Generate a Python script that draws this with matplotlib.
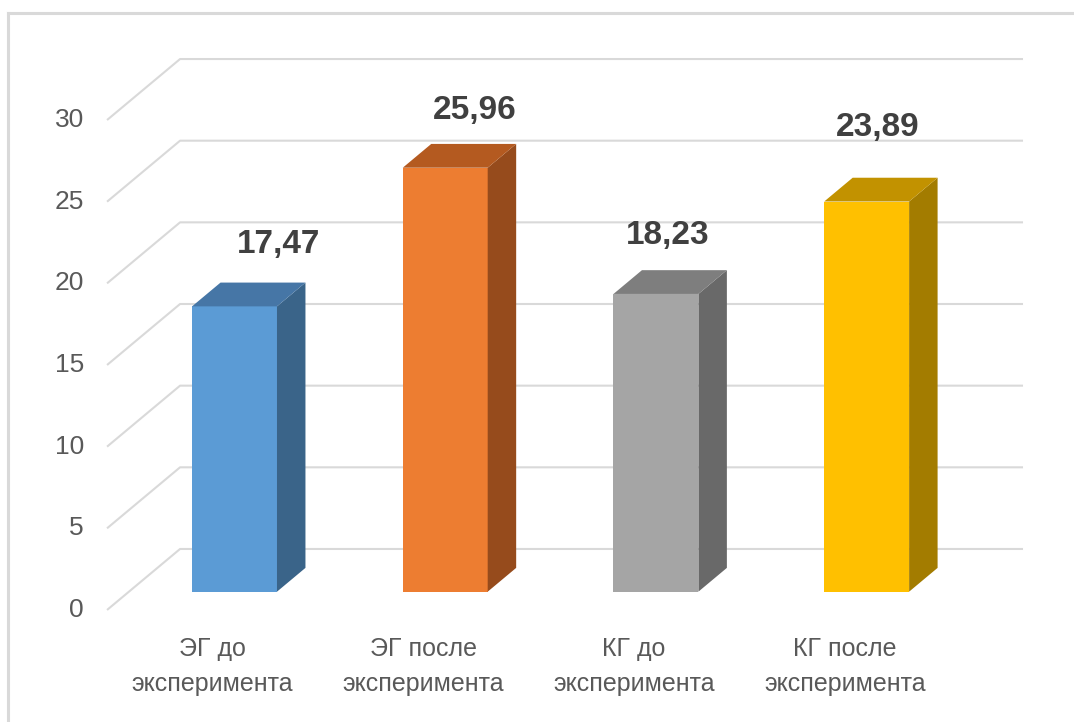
import matplotlib
matplotlib.use("Agg")
import matplotlib.pyplot as plt
from matplotlib.patches import Polygon
from matplotlib.lines import Line2D

plt.rcParams['font.family'] = ['Liberation Sans Narrow', 'Liberation Sans', 'DejaVu Sans']

# ---- data ----
categories = ["ЭГ до\nэксперимента", "ЭГ после\nэксперимента",
              "КГ до\nэксперимента", "КГ после\nэксперимента"]
values = [17.47, 25.96, 18.23, 23.89]
value_labels = ["17,47", "25,96", "18,23", "23,89"]
y_ticks = [0, 5, 10, 15, 20, 25, 30]

front_colors = ["#5B9BD5", "#ED7D31", "#A5A5A5", "#FFC000"]
top_colors = ["#4676A6", "#B45A20", "#7E7E7E", "#C29200"]
side_colors = ["#3A6489", "#964B1C", "#696969", "#A37C00"]

# placement of value labels relative to the bar's front-top centre
label_dx = [0.211, 0.140, 0.057, 0.052]
label_dy = [4.88, 4.60, 4.67, 5.63]

# ---- pseudo-3D geometry (data units) ----
DX, DY = 0.3465, 3.735       # shift from front plane to back wall
T_FRONT, T_BACK = 0.30, 0.69  # depth of bar front / back faces
BAR_W = 0.403
WALL_X0, WALL_X1 = -0.605, 3.742

fig = plt.figure(figsize=(10.74, 7.22), dpi=100)
ax = fig.add_axes([0, 0, 1, 1])
ax.set_xlim(-1.113, 3.984)
ax.set_ylim(-6.86, 37.35)
ax.axis("off")

grid_c = "#D9D9D9"
text_c = "#595959"

# gridlines: diagonal on the side wall, horizontal on the back wall
for v in y_ticks:
    ax.plot([WALL_X0, WALL_X0 + DX, WALL_X1], [v, v + DY, v + DY],
            color=grid_c, lw=1.5, zorder=1, solid_capstyle="butt")
    ax.text(WALL_X0 - 0.109, v, str(v), ha="right", va="center",
            fontsize=19, color=text_c)

# bars
xs = list(range(len(values)))
dxf, dyf = DX * T_FRONT, DY * T_FRONT
ddx, ddy = DX * (T_BACK - T_FRONT), DY * (T_BACK - T_FRONT)
ax.bar(xs, values, width=BAR_W, bottom=dyf,
       color=front_colors, zorder=3, linewidth=0)
for x, v, tc, sc in zip(xs, values, top_colors, side_colors):
    left, right = x - BAR_W / 2, x + BAR_W / 2
    top = v + dyf
    side = Polygon([(right, dyf), (right, top), (right + ddx, top + ddy),
                    (right + ddx, dyf + ddy)], closed=True,
                   facecolor=sc, edgecolor="none", zorder=3)
    cap = Polygon([(left, top), (right, top), (right + ddx, top + ddy),
                   (left + ddx, top + ddy)], closed=True,
                  facecolor=tc, edgecolor="none", zorder=3)
    ax.add_patch(side)
    ax.add_patch(cap)

# value labels
for x, v, lab, ox, oy in zip(xs, values, value_labels, label_dx, label_dy):
    ax.text(x + ox, v + oy, lab, ha="center", va="center",
            fontsize=24, fontweight="bold", color="#404040", zorder=4)

# category labels
for x, lab in zip(xs, categories):
    ax.text(x - dxf, -3.46, lab, ha="center", va="center",
            fontsize=18, color=text_c, linespacing=1.55)

# chart frame (top and left edges)
fig.add_artist(Line2D([8 / 1074, 1], [1 - 13 / 722, 1 - 13 / 722],
                      transform=fig.transFigure, color=grid_c, lw=2.2))
fig.add_artist(Line2D([8 / 1074, 8 / 1074], [0, 1 - 13 / 722],
                      transform=fig.transFigure, color=grid_c, lw=2.2))

fig.savefig("out.png", dpi=100, facecolor="white")
